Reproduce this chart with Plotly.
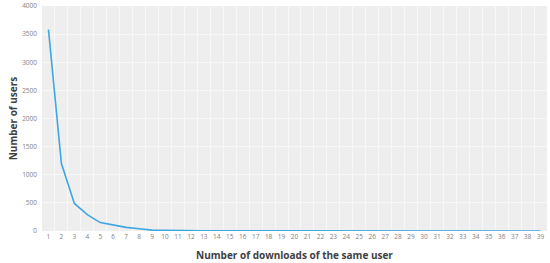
import plotly.graph_objects as go

downloads = [str(i) for i in range(1, 40)]
users = [3580, 1200, 490, 290, 150, 110, 65, 40, 15, 12, 6, 5, 4, 3, 3, 2, 2, 2, 2, 2,
         2, 1, 1, 1, 1, 1, 1, 1, 1, 1, 1, 1, 1, 1, 1, 1, 1, 1, 1]
y_ticks = [0, 500, 1000, 1500, 2000, 2500, 3000, 3500, 4000]

fig = go.Figure(
    go.Scatter(
        x=downloads,
        y=users,
        mode="lines",
        line=dict(color="#3ea6e0", width=1.6),
    )
)

fig.update_layout(
    width=550,
    height=263,
    margin=dict(l=42, r=3, t=6, b=32, autoexpand=False),
    paper_bgcolor="white",
    plot_bgcolor="#eeeeee",
    showlegend=False,
    font=dict(family="Open Sans, Noto Sans, sans-serif", color="#7f7f7f", size=7),
    xaxis=dict(
        type="category",
        range=[-0.5, len(downloads) - 0.5],
        tickson="boundaries",
        showgrid=True,
        gridcolor="#f8f8f8",
        gridwidth=1,
        ticks="",
        tickangle=0,
        automargin=False,
        tickfont=dict(size=6.5, color="#7f7f7f"),
        title=dict(
            text="<b>Number of downloads of the same user</b>",
            font=dict(size=10, color="#3f3f3f"),
            standoff=12,
        ),
        zeroline=False,
    ),
    yaxis=dict(
        range=[0, 4000],
        tickvals=y_ticks,
        showgrid=True,
        gridcolor="#f8f8f8",
        ticks="",
        ticklabelstandoff=4,
        automargin=False,
        tickfont=dict(size=6.5, color="#7f7f7f"),
        title=dict(
            text="<b>Number of users</b>",
            font=dict(size=10, color="#3f3f3f"),
            standoff=2,
        ),
        zeroline=False,
    ),
)

# page body has a default 8px margin; drop it so the figure sits at the window corner
fig.write_html(
    "out.html",
    config={"displayModeBar": False},
    post_script="document.body.style.margin='0';",
)
